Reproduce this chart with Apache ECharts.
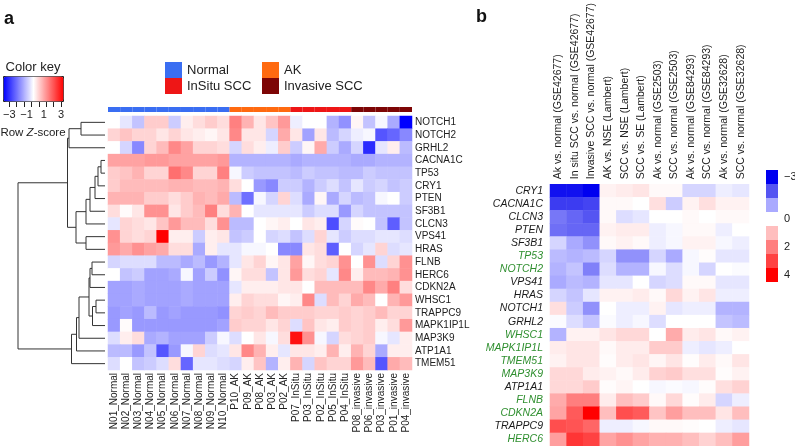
<!DOCTYPE html>
<html><head><meta charset="utf-8">
<script src="https://cdn.jsdelivr.net/npm/echarts@6/dist/echarts.min.js"></script>
<style>html,body{margin:0;padding:0;background:#fff}#c{width:795px;height:446px}</style>
</head><body><div id="c"></div>
<script>
// ---------- Panel a data ----------
const samplesA = ['N01_Normal','N02_Normal','N03_Normal','N04_Normal','N05_Normal','N06_Normal','N07_Normal','N08_Normal','N09_Normal','N10_Normal',
  'P10_AK','P09_AK','P08_AK','P03_AK','P02_AK',
  'P07_InSitu','P03_InSitu','P02_InSitu','P05_InSitu','P04_InSitu',
  'P08_invasive','P06_invasive','P03_invasive','P01_invasive','P04_invasive'];
const sampleGroups = ['Normal','Normal','Normal','Normal','Normal','Normal','Normal','Normal','Normal','Normal',
  'AK','AK','AK','AK','AK','InSitu SCC','InSitu SCC','InSitu SCC','InSitu SCC','InSitu SCC',
  'Invasive SCC','Invasive SCC','Invasive SCC','Invasive SCC','Invasive SCC'];
const groupNames = ['Normal','AK','InSitu SCC','Invasive SCC'];
const groupColors = ['#3a6ef2','#ff6a10','#ee1616','#7d0505'];
const genesA = ['NOTCH1','NOTCH2','GRHL2','CACNA1C','TP53','CRY1','PTEN','SF3B1','CLCN3','VPS41','HRAS',
  'FLNB','HERC6','CDKN2A','WHSC1','TRAPPC9','MAPK1IP1L','MAP3K9','ATP1A1','TMEM51'];
const zScoresA = [
  [0,-0.3,-0.7,0.6,0.6,-0.6,0.2,0.4,0.6,0.4, 1.5,0.9,0.3,0.7,1.2, -0.2,0,0,-0.9,-1.3, 0.1,-0.7,-0.1,-1.0,-3],
  [0.5,0.7,0.5,0.5,0.3,0.5,0.3,0.2,0.1,0.3, 1.4,0.3,0.3,-0.5,1.0, 0.3,-1.1,0.3,-0.8,-0.5, -0.2,-0.1,-2.0,-1.8,-1.4],
  [0,-0.5,-1.4,0.5,0.8,1.4,1.1,0.5,0.5,0.4, -0.5,0.4,0.2,-0.2,0.6, -0.6,0.1,1.0,-0.6,-1.0, -0.5,-2.5,-0.3,0.2,-0.8],
  [1.1,1.1,1.1,1.2,1.2,1.1,1.1,1.1,1.1,1.2, -0.9,-0.9,-0.9,-0.9,-0.9, -1.0,-0.9,-0.9,-0.9,-0.9, -1.0,-1.0,-0.9,-0.9,-0.9],
  [0.6,0.7,0.9,0.5,0.5,1.7,1.4,0.5,0.5,1.5, -0.1,-0.6,-0.7,-0.7,-0.7, -0.8,-0.6,-0.7,-0.7,-0.8, -0.8,-0.6,-0.7,-0.7,-0.7],
  [0.6,0.8,0.8,0.8,0.8,0.9,0.9,0.8,0.8,0.9, 0.4,0,-1.2,-1.4,-0.6, -0.6,-0.9,-0.6,-0.4,-0.7, -0.3,-0.6,-0.5,-0.7,-0.6],
  [0.9,0.9,0.9,0.6,0.6,0.4,0.6,0.9,0.8,1.0, -0.8,-1.7,-0.1,-0.5,0.5, -0.4,-1.0,0.1,-1.0,-0.5, -0.8,-0.7,-0.1,0,-0.6],
  [0.4,0.05,0.3,1.3,1.3,0.3,0.6,0.8,1.5,0.4, 0.9,0,-0.3,-0.3,-0.3, -0.3,-0.6,-0.4,-0.4,-1.2, -0.5,-0.7,-0.7,-0.7,-0.7],
  [-0.3,0.5,0.4,0.3,0.7,1.2,0.8,0.8,0.4,1.3, -0.8,-0.8,0,0.1,0.2, 0,0.3,0.2,-2.1,-0.5, 0.05,0,-0.7,-1.9,-0.7],
  [1.3,0.5,0.4,0.5,3.0,0.2,0.2,-0.6,0.2,0.3, -0.7,-0.6,0,-0.5,-0.4, -0.7,-0.4,0.5,-0.3,-0.6, -0.4,-0.4,-0.3,-0.3,-0.4],
  [1.2,1.0,1.3,1.1,1.0,0.4,0.4,-1.0,0.2,-0.3, -0.3,-0.1,-0.1,0,-1.4, -1.4,0.3,0.4,-1.9,0, -0.5,-0.3,0.5,-0.4,-0.3],
  [-0.5,-0.4,-0.4,-0.4,-0.8,-0.8,-1.0,-0.8,-1.2,-0.9, -0.3,0.3,0.5,0.1,0.3, 1.1,0.1,0.4,0.5,1.3, 0,1.3,-0.4,0.5,1.3],
  [0,-0.7,-0.6,-1.1,-1.1,-1.0,-0.1,-1.1,-0.6,-1.3, 0.1,0.4,0.4,-0.7,0.3, 1.2,0.4,0.5,-0.3,1.4, 0.2,0.8,0.8,0.9,1.3],
  [-1.1,-1.1,-1.0,-1.1,-1.1,-1.1,-1.0,-1.1,-1.1,-1.1, -0.3,0.2,0.2,0.2,0.3, 0.3,0,0.8,0.8,0.8, 0.8,1.4,1.0,1.5,0.4],
  [-1.1,-1.1,-1.0,-1.1,-1.1,-1.1,-1.0,-1.1,-1.1,-1.1, 0.2,0.5,0.4,0.4,0.1, 0.2,1.4,-0.4,0.8,0.5, 1.0,0.8,0,0.9,1.2],
  [-1.2,-1.1,-1.2,-0.8,-1.2,-1.1,-1.2,-1.2,-1.2,-1.3, 0.5,0.6,0.5,0.8,0.6, 0.6,0.6,0.5,0.5,0.6, 0.5,0.6,0.8,0.5,0.5],
  [-1.2,0.05,-1.2,-1.2,-1.2,-1.2,-1.2,-1.2,-1.2,-1.1, 0.6,0.5,0.5,0.3,0.5, -0.4,0.7,0.3,0.2,0.6, 0.5,0.6,0.2,0.4,1.2],
  [-0.4,0.2,0.4,-1.0,-0.9,-1.1,-1.1,-1.1,-0.6,-0.1, -0.4,0,0.3,-0.1,0.4, 2.8,1.3,-0.1,-0.5,0.4, 0.5,0.6,-0.1,-0.3,0.2],
  [-0.8,-0.8,-1.2,-0.7,-2.0,-1.2,-0.1,0.5,-0.4,-0.3, 0.3,1.4,0.9,0.2,-0.3, 0.3,0.3,0.2,0.9,0.2, 0.9,0.5,-1.0,0.2,0.2],
  [-0.4,0,-0.7,-0.6,-0.4,0.4,-1.8,-0.3,-0.3,-0.4, -0.5,0.2,0.7,-0.9,0.2, 0.9,-0.5,0.7,0.5,0.5, 1.2,0.8,-2.0,1.0,0.8]
];
// dendrogram merges: [childA, childB, height]; child = gene name or index of earlier merge
const dendroMerges = [
  ['NOTCH1','NOTCH2',24], [0,'GRHL2',36],
  ['CACNA1C','TP53',4], [2,'CRY1',7], [3,'PTEN',10], [4,'SF3B1',15], [5,'CLCN3',19],
  ['VPS41','HRAS',19], [6,7,29], [1,8,37.5],
  ['FLNB','HERC6',13], [10,'CDKN2A',15], ['WHSC1','TRAPPC9',9], [12,'MAPK1IP1L',12.5],
  [11,13,16], [14,'MAP3K9',26], [15,'ATP1A1',28.5], [16,'TMEM51',33.5],
  [9,17,87]
];
const keyTicks = [-3,-2.143,-1.286,-0.429,0.429,1.286,2.143,3];
const keyLabels = [-3,-1,1,3];

// ---------- Panel b data ----------
const comparisonsB = ['Ak vs. normal (GSE42677)','In situ SCC vs. normal (GSE42677)','Invasive SCC vs. normal (GSE42677)',
  'AK vs. NSE (Lambert)','SCC vs. NSE (Lambert)','SCC vs. SE (Lambert)',
  'Ak vs. normal (GSE2503)','SCC vs. normal (GSE2503)','Ak vs. normal (GSE84293)','SCC vs. normal (GSE84293)',
  'Ak vs. normal (GSE32628)','SCC vs. normal (GSE32628)'];
const genesB = ['CRY1','CACNA1C','CLCN3','PTEN','SF3B1','TP53','NOTCH2','VPS41','HRAS','NOTCH1','GRHL2',
  'WHSC1','MAPK1IP1L','TMEM51','MAP3K9','ATP1A1','FLNB','CDKN2A','TRAPPC9','HERC6'];
const greenGenesB = ['TP53','NOTCH2','WHSC1','MAPK1IP1L','TMEM51','MAP3K9','FLNB','CDKN2A','HERC6'];
const foldB = [
  [-2.8,-2.8,-3.0,0.2,0.3,0.4,0.1,0.1,-0.5,-0.5,-0.2,-0.3],
  [-2.3,-2.3,-2.2,0.1,0.1,0,0.5,-0.6,0.2,0.5,0.2,0.2],
  [-1.6,-1.8,-2.0,0.1,-0.4,-0.3,0,0,0.1,0,0.1,0.1],
  [-1.7,-1.8,-1.8,0.2,0.3,0.3,-0.2,-0.1,0.1,0.1,-0.2,0],
  [-0.5,-1.0,-1.3,0.1,0.2,0.1,-0.2,-0.1,0.2,0.2,-0.1,-0.2],
  [-0.8,-0.9,-0.8,-0.5,-1.3,-1.3,-0.5,-1.0,-0.1,0.05,-0.3,-0.3],
  [-0.9,-0.7,-1.5,-0.4,-0.9,-0.9,-0.1,-0.4,-0.1,-0.5,0,-0.05],
  [-1.0,-0.8,-0.9,-0.3,-0.3,0,-0.5,-0.4,0.1,0.1,-0.3,-0.3],
  [-0.5,-0.7,-0.3,0.2,0.2,0.3,0.1,0.6,0.2,0.4,-0.2,-0.2],
  [0.5,-0.6,-1.3,0,-0.2,-0.2,0.2,-0.3,-0.2,-0.2,-0.9,-0.9],
  [-0.05,-0.4,-0.7,-0.05,-0.2,-0.1,-0.4,0,0,0,-0.7,-0.8],
  [-0.9,0.2,0.2,0.4,0.6,0.6,0,1.3,0.3,0.4,0.1,0.2],
  [0.3,0.4,0.4,0.1,0.3,0.3,0.8,0.8,-0.2,-0.3,-0.2,0],
  [0.2,0.4,0.4,0.05,0.3,0.4,0.15,0.4,0.05,0.3,0.1,0.4],
  [0.6,0.6,0.3,0.2,0.1,0.3,0.7,0.8,0.5,0.5,0.05,0.2],
  [0.6,0.6,0.8,0.05,0.15,0,-0.1,-0.05,-0.1,0.05,0.5,0.7],
  [1.3,2.0,2.0,0.3,1.0,0.8,0.1,0.6,0.05,0.3,-0.5,-0.2],
  [1.4,2.6,4.0,1.0,2.8,2.6,0.9,1.5,1.0,1.0,0.4,1.0],
  [2.8,2.7,2.4,-0.2,-0.2,-0.1,0.1,0.1,0.05,0,-0.2,-0.3],
  [1.5,3.2,3.0,1.4,1.7,1.4,1.2,1.2,1.0,0.7,1.0,1.5]
];
const legendSteps = [-3,-2,-1,0,1,2,3,4];
const legendStepLabels = ['−3',' ',' ','0',' ','2',' ','4'];
const stepColors = ['#0000f0','#5555f2','#aaaaff','#ffffff','#ffbebe','#ff7e7e','#ff4242','#ff0000'];

// ---------- build ----------
const FONT = 'Liberation Sans, Arial, Helvetica, sans-serif';
const heatA = [];
zScoresA.forEach((row, r) => row.forEach((v, c) => heatA.push([c, r, v])));
const heatB = [];
foldB.forEach((row, r) => row.forEach((v, c) => heatB.push([c, r, v])));

const nodePos = [];
function posOf(ref) { return typeof ref === 'string' ? {y: genesA.indexOf(ref), h: 0} : nodePos[ref]; }
dendroMerges.forEach((m, i) => { const a = posOf(m[0]), b = posOf(m[1]); nodePos[i] = {y: (a.y + b.y) / 2, h: m[2]}; });

const groupSeries = groupNames.map((g, gi) => ({
  name: g, type: 'bar', xAxisIndex: 1, yAxisIndex: 1, stack: 'grp', barCategoryGap: '0%',
  itemStyle: {color: groupColors[gi]}, silent: true,
  data: sampleGroups.map(s => s === g ? 1 : '-')
}));

const option = {
  animation: false,
  textStyle: {fontFamily: FONT},
  grid: [
    {left: 108, top: 116, width: 304, height: 254},
    {left: 108, top: 107, width: 304, height: 5},
    {left: 18, top: 116, width: 87, height: 254},
    {left: 550, top: 170, width: 199, height: 276},
    {left: 5, top: 100, width: 56, height: 1}
  ],
  xAxis: [
    {type: 'category', gridIndex: 0, data: samplesA, position: 'bottom',
     axisLine: {show: false}, axisTick: {show: false}, splitLine: {show: false},
     axisLabel: {rotate: 90, fontSize: 10, color: '#222', margin: 3, interval: 0}},
    {type: 'category', gridIndex: 1, data: samplesA, show: false},
    {type: 'value', gridIndex: 2, min: 0, max: 87, inverse: true, show: false},
    {type: 'category', gridIndex: 3, data: comparisonsB, position: 'top',
     axisLine: {show: false}, axisTick: {show: false}, splitLine: {show: false},
     axisLabel: {rotate: -90, fontSize: 10.5, color: '#222', margin: 5, interval: 0}},
    {type: 'value', gridIndex: 4, min: -3, max: 3, position: 'bottom',
     axisLine: {show: false}, splitLine: {show: false},
     axisTick: {show: true, length: 6, customValues: keyTicks, lineStyle: {color: '#222', width: 1}},
     axisLabel: {customValues: keyLabels, fontSize: 11, color: '#222', margin: 8,
       formatter: v => (v < 0 ? '−' : '') + Math.abs(v)}}
  ],
  yAxis: [
    {type: 'category', gridIndex: 0, data: genesA, inverse: true, position: 'right',
     axisLine: {show: false}, axisTick: {show: false}, splitLine: {show: false},
     axisLabel: {fontSize: 10, color: '#222', margin: 3, interval: 0}},
    {type: 'value', gridIndex: 1, min: 0, max: 1, show: false},
    {type: 'value', gridIndex: 2, min: -0.5, max: 19.5, inverse: true, show: false},
    {type: 'category', gridIndex: 3, data: genesB, inverse: true, position: 'left',
     axisLine: {show: false}, axisTick: {show: false}, splitLine: {show: false},
     axisLabel: {fontSize: 10.5, fontStyle: 'italic', margin: 7, interval: 0,
       color: v => greenGenesB.indexOf(v) >= 0 ? '#2f8f2f' : '#1a1a1a'}},
    {type: 'value', gridIndex: 4, show: false}
  ],
  legend: [
    {data: ['Normal','InSitu SCC'], orient: 'vertical', left: 160, top: 57, itemWidth: 17, itemHeight: 16,
     itemGap: 0, icon: 'rect', selectedMode: false, textStyle: {fontSize: 13, color: '#222'}},
    {data: ['AK','Invasive SCC'], orient: 'vertical', left: 257, top: 57, itemWidth: 17, itemHeight: 16,
     itemGap: 0, icon: 'rect', selectedMode: false, textStyle: {fontSize: 13, color: '#222'}}
  ],
  visualMap: [
    {type: 'continuous', seriesIndex: 0, min: -3, max: 3, orient: 'horizontal', left: 3, top: 76,
     itemWidth: 25, itemHeight: 60, calculable: false, padding: 0, borderWidth: 1, borderColor: '#222',
     inRange: {color: ['#0000ff','#ffffff','#ff0000']}, text: null, hoverLink: false},
    {type: 'continuous', seriesIndex: 6, min: -3, max: 4, show: false, inRange: {color: stepColors}},
    {type: 'piecewise', seriesIndex: 7, orient: 'vertical', inverse: true, align: 'left', left: 766, top: 170,
     itemWidth: 12, itemHeight: 14, itemGap: 0, itemSymbol: 'rect', textGap: 6, padding: 0,
     selectedMode: false, hoverLink: false, textStyle: {fontSize: 11, color: '#222'},
     pieces: legendSteps.map((v, i) => ({value: v, label: legendStepLabels[i], color: stepColors[i]}))}
  ],
  series: [
    {type: 'heatmap', xAxisIndex: 0, yAxisIndex: 0, data: heatA, silent: true, itemStyle: {borderWidth: 0}},
    ...groupSeries,
    {type: 'custom', xAxisIndex: 2, yAxisIndex: 2, silent: true, clip: false,
     data: dendroMerges.map((m, i) => [m[2], nodePos[i].y]),
     renderItem: (params, api) => {
       const m = dendroMerges[params.dataIndex];
       const a = posOf(m[0]), b = posOf(m[1]);
       const pts = [[a.h, a.y], [m[2], a.y], [m[2], b.y], [b.h, b.y]].map(p => api.coord(p));
       return {type: 'polyline', shape: {points: pts}, style: {stroke: '#333', lineWidth: 1, fill: null}};
     }},
    {type: 'heatmap', xAxisIndex: 3, yAxisIndex: 3, data: heatB, silent: true, itemStyle: {borderWidth: 0}},
    {type: 'scatter', xAxisIndex: 3, yAxisIndex: 3, data: [], silent: true}
  ],
  graphic: [
    {type: 'text', x: 4, y: 19, style: {text: 'a', font: 'bold 18px ' + FONT, fill: '#111', align: 'left', verticalAlign: 'middle'}},
    {type: 'text', x: 476, y: 17, style: {text: 'b', font: 'bold 18px ' + FONT, fill: '#111', align: 'left', verticalAlign: 'middle'}},
    {type: 'text', x: 33, y: 67, style: {text: 'Color key', font: '13px ' + FONT, fill: '#222', align: 'center', verticalAlign: 'middle'}},
    {type: 'text', x: 33, y: 133, style: {text: 'Row {i|Z}-score', font: '11.5px ' + FONT, fill: '#222', align: 'center', verticalAlign: 'middle',
      rich: {i: {fontStyle: 'italic', fontSize: 11.5, fontFamily: FONT, fill: '#222'}}}}
  ]
};
const chart = echarts.init(document.getElementById('c'), null, {renderer: 'canvas'});
chart.setOption(option);
</script>
</body></html>
